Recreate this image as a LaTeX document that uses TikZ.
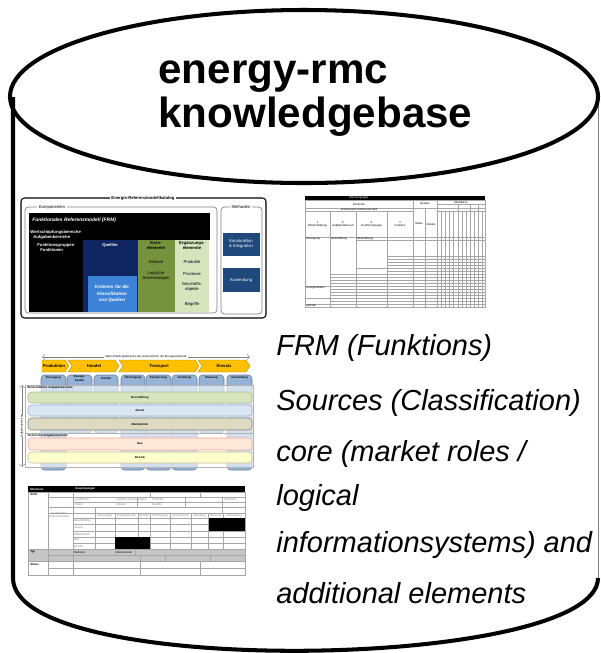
\documentclass[tikz,border=0pt]{standalone}
\usepackage{fontspec}
\setmainfont{Liberation Sans}
\usetikzlibrary{positioning}
\usepackage{xcolor}

\definecolor{navyq}{RGB}{16,38,98}
\definecolor{bluek}{RGB}{60,130,215}
\definecolor{greenk}{RGB}{118,146,60}
\definecolor{greene}{RGB}{215,228,189}
\definecolor{bluem}{RGB}{31,73,125}
\definecolor{chevron}{RGB}{255,192,0}
\definecolor{colblue}{RGB}{149,179,215}
\definecolor{bandg}{RGB}{215,228,189}
\definecolor{bandb}{RGB}{220,230,242}
\definecolor{bandt}{RGB}{221,217,195}
\definecolor{bandp}{RGB}{253,233,217}
\definecolor{bandy}{RGB}{255,255,204}

\tikzset{
  dbline/.style={line width=2.3pt},
  titletxt/.style={font=\fontsize{24}{25}\selectfont\bfseries, anchor=base west, inner sep=0pt},
  notetxt/.style={font=\fontsize{16.5}{18}\selectfont\itshape, anchor=base west, inner sep=0pt},
  mini/.style={font=\fontsize{2.4}{2.8}\selectfont, inner sep=0pt, align=center},
  minib/.style={mini, font=\fontsize{2.4}{2.8}\selectfont\bfseries},
  micro/.style={font=\fontsize{1.6}{1.9}\selectfont, inner sep=0pt, align=center},
  grid/.style={gray!70, line width=0.2pt},
  band/.style={rounded corners=2, line width=0.3pt}
}

\begin{document}
\begin{tikzpicture}[x=0.02cm,y=-0.02cm]
\useasboundingbox (0,0) rectangle (600,653);
% cylinder
\draw[gray,line width=0.5pt] (598,96) -- (598,578);
\draw[dbline] (13,97) -- (13,578) .. controls (13,680) and (598,670) .. (598,578);
\draw[dbline] (304,96.5) ellipse (294 and 86.5);
\node[titletxt] (title1) at (158,83) {energy-rmc};
\node[titletxt] (title2) at (158,127) {knowledgebase};

% Energie-Referenzmodellkatalog
\draw[line width=0.6pt, rounded corners=2] (21,198) rectangle (266,318);
\draw[gray, line width=0.4pt, rounded corners=2] (25,207) rectangle (217,313);
\draw[gray, line width=0.4pt, rounded corners=2] (221,207) rectangle (262,314);
\node[minib, fill=white, inner xsep=1] (katalog) at (143,198) {Energie-Referenzmodellkatalog};
\node[mini, fill=white, inner xsep=1] (komp) at (52,207) {Komponenten};
\node[mini, fill=white, inner xsep=1] (meth) at (241,207) {Methoden};
\fill (29,213) rectangle (210,240);
\fill (29,240) rectangle (83,312);
\fill[navyq] (83,240) rectangle (138,312);
\fill[bluek] (88,276) rectangle (137,312);
\fill[greenk] (138,240) rectangle (175,312);
\fill[greene] (175,240) rectangle (209,312);
\fill[bluem] (223,233) rectangle (260,256);
\fill[bluem] (223,268) rectangle (260,292);
\node[minib, white, anchor=west, font=\fontsize{2.8}{3.2}\selectfont\bfseries\itshape] (frm) at (32,220) {Funktionales Referenzmodell (FRM)};
\node[minib, white, anchor=west] (wsb) at (30,232) {Wertschöpfungsbereiche};
\node[minib, white, anchor=west] (agb) at (33,237) {Aufgabenbereiche};
\node[minib, white, anchor=west] (fgr) at (37,245) {Funktionsgruppen};
\node[minib, white, anchor=west] (fkt) at (40,250) {Funktionen};
\node[minib, white] (quellen) at (110,245) {Quellen};
\node[minib, white, font=\fontsize{2.6}{3.6}\selectfont\bfseries\itshape] (krit) at (112,294) {Kriterien f\"ur die\\Klassifikation\\von Quellen};
\node[minib] (kern) at (156,246) {Kern-\\elemente};
\node[mini] (akteure) at (156,262) {Akteure};
\node[mini] (logan) at (156,276) {Logische\\Anwendungen};
\node[minib] (erg) at (192,246) {Erg\"anzungs-\\elemente};
\node[mini] (produkte) at (192,262) {Produkte};
\node[mini] (prozesse) at (192,274) {Prozesse};
\node[mini] (gobj) at (192,287) {Gesch\"afts-\\objekte};
\node[mini] (begriffe) at (192,304) {Begriffe};
\node[mini, white] (konstr) at (241,244) {Konstruktion\\\& Integration};
\node[mini, white] (anw) at (241,280) {Anwendung};

% Quellentabelle
\fill (305,196) rectangle (485,200);
\draw[grid] (305,200) rectangle (485,307);
\draw[grid] (305,208) -- (485,208) (305,211) -- (413,211) (437,204) -- (485,204) (437,211) -- (485,211)
  (305,237) -- (485,237) (356,240) -- (485,240);
\draw[grid] (330,211) -- (330,307) (356,211) -- (356,307) (387,211) -- (387,307)
  (413,200) -- (413,307) (425,208) -- (425,307) (437,200) -- (437,307)
  (441,211) -- (441,307) (445,211) -- (445,307) (449,211) -- (449,307) (453,211) -- (453,307)
  (458,204) -- (458,307) (462,211) -- (462,307) (466,211) -- (466,307) (470,204) -- (470,307)
  (474,211) -- (474,307) (478,204) -- (478,307) (482,211) -- (482,307);
\draw[grid] (387,256) -- (485,256) (387,259) -- (485,259) (387,262) -- (485,262) (387,265) -- (485,265)
  (356,268) -- (485,268) (387,271) -- (485,271) (330,274) -- (485,274) (330,277) -- (485,277)
  (330,280) -- (485,280) (330,283) -- (485,283) (305,286) -- (485,286) (330,289) -- (485,289)
  (330,292) -- (485,292) (330,295) -- (485,295) (305,298) -- (485,298) (330,301) -- (485,301)
  (305,304) -- (485,304);
\node[micro, white] (elgr) at (359,198) {Elementgruppe};
\node[micro] (elem) at (359,204) {Elemente};
\node[micro] (qu) at (425,204) {Quellen};
\node[micro] (meta) at (461,202) {Metadaten};
\node[micro] (frmt) at (359,209.5) {Funktionales Referenzmodell};
\node[micro] (c1) at (317.5,224) {1\\Wertsch\"opfung};
\node[micro] (c2) at (343,224) {2\\Aufgabenbereich};
\node[micro] (c3) at (371.5,224) {3\\Funktionsgruppe};
\node[micro] (c4) at (400,224) {4\\Funktion};
\node[micro] (c5) at (419,224) {Name};
\node[micro] (c6) at (431,224) {Details};
\node[micro, anchor=west] (d1) at (306,238.5) {Erzeugung};
\node[micro, anchor=west] (d2) at (331,238.5) {Beschaffung};
\node[micro, anchor=west] (d3) at (357,238.5) {Beschaffung};
\node[micro, anchor=west] (d4) at (306,288) {Energiehandel};
\node[micro, anchor=west] (d5) at (306,305.5) {Vertrieb};

% Wertschoepfungsbereiche
\draw[<->, gray, line width=0.3pt] (42,357) -- (250,357);
\node[micro, fill=white, inner xsep=1] (wsbtitle) at (146,357) {Wertsch\"opfungsbereiche der Unternehmen der Energiewirtschaft};
\filldraw[fill=chevron, draw=chevron!70!black, line width=0.2pt] (42,360) -- (65,360) -- (69,366) -- (65,372) -- (42,372) -- cycle;
\filldraw[fill=chevron, draw=chevron!70!black, line width=0.2pt] (68,360) -- (115,360) -- (119,366) -- (115,372) -- (68,372) -- (72,366) -- cycle;
\filldraw[fill=chevron, draw=chevron!70!black, line width=0.2pt] (119,360) -- (195,360) -- (199,366) -- (195,372) -- (119,372) -- (123,366) -- cycle;
\filldraw[fill=chevron, draw=chevron!70!black, line width=0.2pt] (198,360) -- (246,360) -- (250,366) -- (246,372) -- (198,372) -- (202,366) -- cycle;
\node[minib] (prod) at (54,366) {Produktion};
\node[minib] (handel) at (94,366) {Handel};
\node[minib] (transp) at (159,366) {Transport};
\node[minib] (einsatz) at (224,366) {Einsatz};
\filldraw[fill=colblue, draw=colblue!70!black, band] (41,375) rectangle (66,470);
\filldraw[fill=colblue, draw=colblue!70!black, band] (67,375) rectangle (92,433);
\filldraw[fill=colblue, draw=colblue!70!black, band] (94,375) rectangle (118,433);
\filldraw[fill=colblue, draw=colblue!70!black, band] (121,375) rectangle (145,470);
\filldraw[fill=colblue, draw=colblue!70!black, band] (146,375) rectangle (171,470);
\filldraw[fill=colblue, draw=colblue!70!black, band] (172,375) rectangle (197,470);
\filldraw[fill=colblue, draw=colblue!70!black, band] (199,375) rectangle (224,433);
\filldraw[fill=colblue, draw=colblue!70!black, band] (227,375) rectangle (252,470);
\node[micro, font=\fontsize{1.6}{1.9}\selectfont\bfseries] (k1) at (53.5,378) {Erzeugung};
\node[micro, font=\fontsize{1.6}{1.9}\selectfont\bfseries] (k2) at (79.5,378.5) {Energie-\\handel};
\node[micro, font=\fontsize{1.6}{1.9}\selectfont\bfseries] (k3) at (106,378) {Vertrieb};
\node[micro, font=\fontsize{1.6}{1.9}\selectfont\bfseries] (k4) at (133,378) {\"Ubertragung};
\node[micro, font=\fontsize{1.6}{1.9}\selectfont\bfseries] (k5) at (158.5,378) {Speicherung};
\node[micro, font=\fontsize{1.6}{1.9}\selectfont\bfseries] (k6) at (184.5,378) {Verteilung};
\node[micro, font=\fontsize{1.6}{1.9}\selectfont\bfseries] (k7) at (211.5,378) {Messung};
\node[micro, font=\fontsize{1.6}{1.9}\selectfont\bfseries] (k8) at (239.5,378) {Verwendung};
\filldraw[fill=white, fill opacity=0.6, draw=gray!60, line width=0.2pt] (25,385) rectangle (253,433);
\filldraw[fill=white, fill opacity=0.6, draw=gray!60, line width=0.2pt] (25,433) rectangle (253,467);
\node[micro, anchor=west, font=\fontsize{1.6}{1.9}\selectfont\bfseries] (wab) at (27,388) {Wirtschaftliche Aufgabenbereiche};
\node[micro, anchor=west, font=\fontsize{1.6}{1.9}\selectfont\bfseries] (tab) at (27,436) {Technische Aufgabenbereiche};
\filldraw[fill=bandg, draw=greenk!60, band] (28,392) rectangle (252,403);
\filldraw[fill=bandb, draw=colblue, band] (28,405) rectangle (252,416);
\filldraw[fill=bandt, draw=bandt!60!black, band] (28,418) rectangle (252,430);
\filldraw[fill=bandp, draw=bandp!70!red, band] (28,438) rectangle (252,450);
\filldraw[fill=bandy, draw=bandy!75!black, band] (28,452) rectangle (252,463);
\node[micro, font=\fontsize{1.6}{1.9}\selectfont\bfseries] (besch) at (140,397.5) {Beschaffung};
\node[micro, font=\fontsize{1.6}{1.9}\selectfont\bfseries] (absatz) at (140,410.5) {Absatz};
\node[micro, font=\fontsize{1.6}{1.9}\selectfont\bfseries] (markt) at (140,424) {Marktbetrieb};
\node[micro, font=\fontsize{1.6}{1.9}\selectfont\bfseries] (bau) at (140,444) {Bau};
\node[micro, font=\fontsize{1.6}{1.9}\selectfont\bfseries] (betrieb) at (140,457.5) {Betrieb};
\draw[<->, gray, line width=0.3pt] (22,385) -- (22,467);
\node[micro, rotate=90, fill=white] (aufg) at (22,426) {Aufgabenbereiche};

% Merkmalstabelle
\fill (28,486) rectangle (245,492);
\fill[gray!45] (28,549) rectangle (245,561);
\draw[grid] (28,492) rectangle (245,575);
\draw[grid] (48,492) -- (48,575) (73,492) -- (73,575)
  (48,497) -- (245,497) (73,502) -- (245,502) (48,507) -- (245,507) (48,513) -- (245,513)
  (73,518) -- (245,518) (73,524) -- (245,524) (73,531) -- (245,531) (73,537) -- (245,537)
  (73,543) -- (245,543) (28,549) -- (245,549) (48,555) -- (245,555) (28,561) -- (245,561)
  (48,568) -- (245,568);
\draw[grid] (95,513) -- (95,549) (115,513) -- (115,549) (138,513) -- (138,549) (150,513) -- (150,549)
  (170,513) -- (170,549) (191,513) -- (191,549) (208,513) -- (208,549) (223,513) -- (223,549)
  (137,497) -- (137,507) (150,492) -- (150,497) (185,497) -- (185,507) (200,492) -- (200,497)
  (95,507) -- (95,513) (222,497) -- (222,513)
  (115,549) -- (115,555) (135,549) -- (135,555) (140,555) -- (140,561) (165,555) -- (165,561) (210,555) -- (210,561)
  (140,561) -- (140,575) (200,561) -- (200,575);
\fill (209,518) rectangle (245,531);
\fill (115,537) rectangle (150,549);
\node[micro, white, anchor=west, font=\fontsize{1.6}{1.9}\selectfont\bfseries] (merk) at (30,489) {Merkmale};
\node[micro, white, anchor=west, font=\fontsize{1.6}{1.9}\selectfont\bfseries] (auspr) at (75,489) {Auspr\"agungen};
\node[micro, anchor=west, font=\fontsize{1.6}{1.9}\selectfont\bfseries] (sicht) at (30,494.5) {Sicht};
\node[micro, anchor=west, font=\fontsize{1.6}{1.9}\selectfont\bfseries] (typ) at (30,552) {Typ};
\node[micro, anchor=west, font=\fontsize{1.6}{1.9}\selectfont\bfseries] (status) at (30,564.5) {Status};
\node[micro, anchor=west, gray] (s1) at (75,499.5) {Funktionen};
\node[micro, anchor=west, gray] (s2) at (116,499.5) {Logische Anwendungen};
\node[micro, anchor=west, gray] (s3) at (152,499.5) {Produkte};
\node[micro, anchor=west, gray] (s4) at (224,499.5) {Prozesse};
\node[micro, anchor=west, gray] (s5) at (75,504.5) {Daten};
\node[micro, anchor=west, gray] (s6) at (116,504.5) {Akteure};
\node[micro, anchor=west, gray] (s7) at (152,504.5) {Begriffe};
\node[micro, anchor=west, gray] (frmz) at (49,515) {Funktionales\\Referenzmodell};
\node[micro, gray] (m1) at (105,515.5) {Erzeugung};
\node[micro, gray] (m2) at (126.5,515.5) {Energiehandel};
\node[micro, gray] (m3) at (144,515.5) {Vertrieb};
\node[micro, gray] (m4) at (160,515.5) {\"Ubertragung};
\node[micro, gray] (m5) at (180.5,515.5) {Speicherung};
\node[micro, gray] (m6) at (199.5,515.5) {Verteilung};
\node[micro, gray] (m7) at (215.5,515.5) {Messung};
\node[micro, gray] (m8) at (234,515.5) {Verwendung};
\node[micro, anchor=west, gray] (r1) at (74,521) {Beschaffung};
\node[micro, anchor=west, gray] (r2) at (74,527.5) {Absatz};
\node[micro, anchor=west, gray] (r3) at (74,534) {Marktbetrieb};
\node[micro, anchor=west, gray] (r4) at (74,540) {Bau};
\node[micro, anchor=west, gray] (r5) at (74,546) {Betrieb};
\node[micro, anchor=west] (t1) at (116,552) {International};
\node[micro, anchor=west] (t2) at (74,552) {National};

% Erlaeuterungen
\node[notetxt] (n1) at (276,355) {FRM (Funktions)};
\node[notetxt] (n2) at (276,410) {Sources (Classification)};
\node[notetxt] (n3) at (276,461) {core (market roles /};
\node[notetxt] (n4) at (276,505) {logical};
\node[notetxt] (n5) at (276,552) {informationsystems) and};
\node[notetxt] (n6) at (276,603) {additional elements};
\end{tikzpicture}
\end{document}
